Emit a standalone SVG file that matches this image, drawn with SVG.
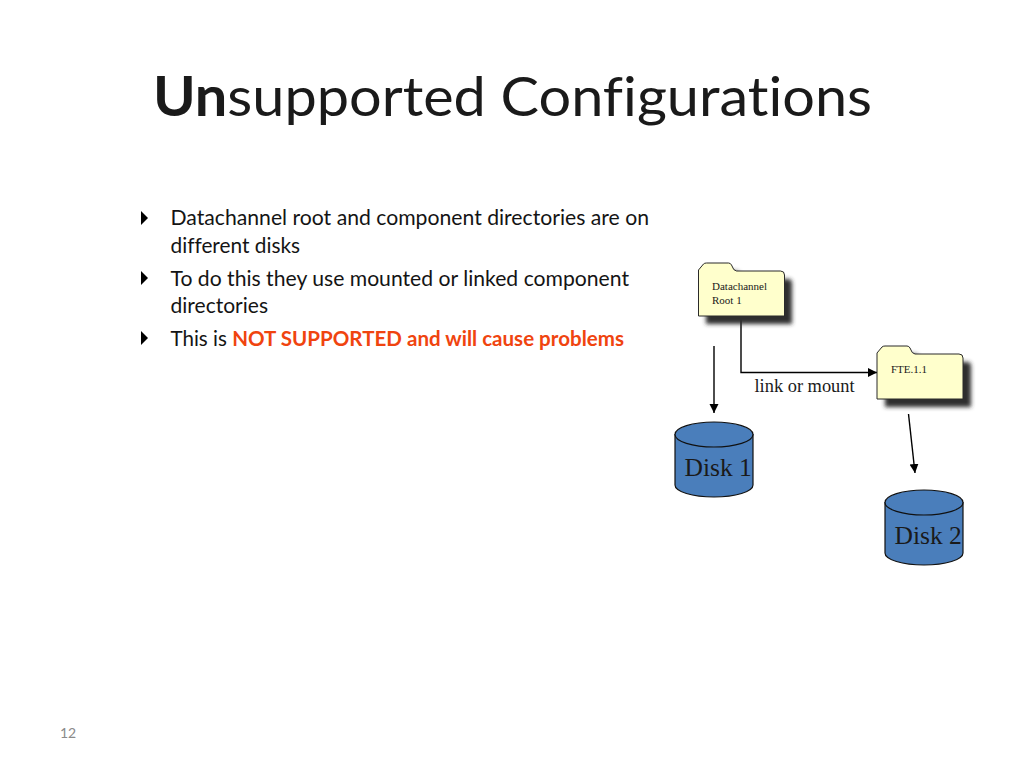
<svg xmlns="http://www.w3.org/2000/svg" width="1024" height="768" viewBox="0 0 1024 768">
<style>
.s{font-family:Lato,"Open Sans",sans-serif;font-variant-ligatures:none}
.b{font-size:21px;fill:#141414}
.t{font-family:"Liberation Serif",serif;fill:#1a1a1a}
.folder{fill:#ffffcc;stroke:#2a2a2a;stroke-width:1}
.shadow{fill:#2e2e2e;filter:url(#blur)}
.disk{fill:#4a7ebb;stroke:#111;stroke-width:1.200}
.line{fill:none;stroke:#000;stroke-width:1.400}
.bul{fill:#000}
</style>
<defs>
<filter id="blur" x="-20%" y="-20%" width="140%" height="140%"><feGaussianBlur stdDeviation="2"/></filter>
<marker id="arrow" markerUnits="userSpaceOnUse" markerWidth="11" markerHeight="10" refX="9" refY="4.500" orient="auto"><path d="M0 0L9 4.500L0 9Z" fill="#000"/></marker>
<path id="fold" d="M0 7L5 1Q6 0 8 0H30Q32 0 33 2Q35 8 38 8H82Q86 8 86 12V53H0Z"/>
</defs>
<rect width="1024" height="768" fill="#fff"/>
<g id="title"><text class="s" x="153" y="116" font-size="55" fill="#1a1a1a" textLength="719" lengthAdjust="spacingAndGlyphs"><tspan font-weight="700">Un</tspan>supported Configurations</text></g>
<g id="bullets">
<path class="bul" d="M141 211L148 218L141 225Z"/>
<path class="bul" d="M141 271L148 278L141 285Z"/>
<path class="bul" d="M141 331L148 338L141 345Z"/>
<text class="s b" x="170.500" y="225" textLength="478.500" lengthAdjust="spacingAndGlyphs">Datachannel root and component directories are on</text>
<text class="s b" x="170.500" y="253" textLength="129.500" lengthAdjust="spacingAndGlyphs">different disks</text>
<text class="s b" x="170.500" y="285.500" textLength="458.500" lengthAdjust="spacingAndGlyphs">To do this they use mounted or linked component</text>
<text class="s b" x="170.500" y="313" textLength="97.500" lengthAdjust="spacingAndGlyphs">directories</text>
<text class="s b" x="170.500" y="345.500" textLength="453.500" lengthAdjust="spacingAndGlyphs">This is <tspan font-weight="700" fill="#f0440f">NOT SUPPORTED and will cause problems</tspan></text>
</g>
<g id="connectors">
<path class="line" d="M714 346V413" marker-end="url(#arrow)"/>
<path class="line" d="M741 316V372.500H877" marker-end="url(#arrow)"/>
<path class="line" d="M908.500 414L915 473" marker-end="url(#arrow)"/>
</g>
<g id="folder-root">
<use href="#fold" class="shadow" x="706" y="271"/>
<use href="#fold" class="folder" x="698.500" y="263"/>
<text class="t" x="712" y="290" font-size="11">Datachannel</text>
<text class="t" x="712" y="304" font-size="11">Root 1</text>
</g>
<g id="folder-fte">
<use href="#fold" class="shadow" x="885" y="354"/>
<use href="#fold" class="folder" x="877" y="346"/>
<text class="t" x="891" y="373" font-size="11">FTE.1.1</text>
</g>
<g id="label-link"><text class="t" x="754.500" y="392" font-size="18.400">link or mount</text></g>
<g id="disk-1">
<path class="disk" d="M675 434.500V485A39 12 0 0 0 753 485V434.500Z"/>
<ellipse class="disk" cx="714" cy="434.500" rx="39" ry="12.500"/>
<text class="t" x="684.500" y="475.500" font-size="25.500">Disk 1</text>
</g>
<g id="disk-2">
<path class="disk" d="M885 502.500V553A39 12 0 0 0 963 553V502.500Z"/>
<ellipse class="disk" cx="924" cy="502.500" rx="39" ry="12.500"/>
<text class="t" x="894.500" y="544" font-size="25.500">Disk 2</text>
</g>
<g id="page-number"><text class="s" x="60" y="738" font-size="14" fill="#8a8a8a">12</text></g>
</svg>
